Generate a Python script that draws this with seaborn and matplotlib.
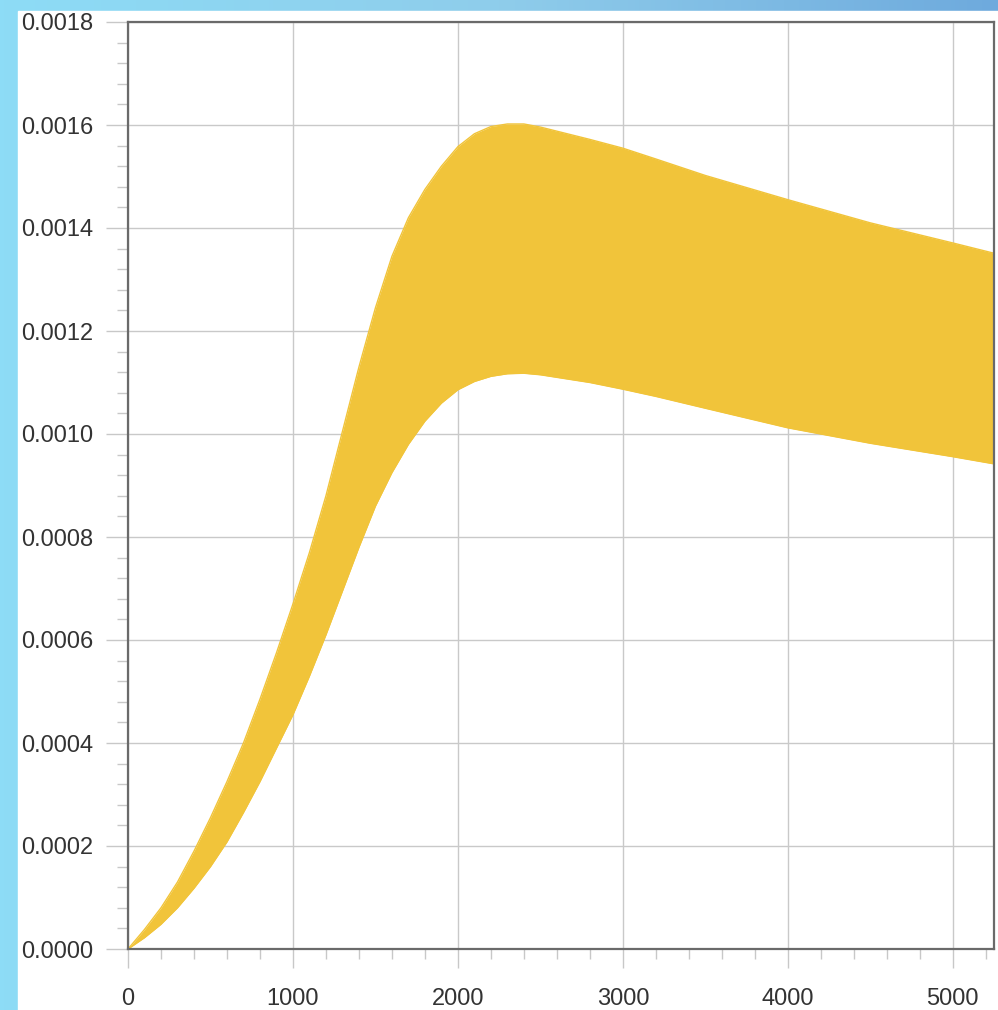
import numpy as np
import pandas as pd
import matplotlib
matplotlib.use("Agg")
import matplotlib.pyplot as plt
from matplotlib.ticker import MultipleLocator, FormatStrFormatter
import seaborn as sns

# valores (x, limite superior e inferior de la banda, en 1e-4)
x_vals = [0, 100, 200, 300, 400, 500, 600, 700, 800, 900, 1000, 1100, 1200,
          1300, 1400, 1500, 1600, 1700, 1800, 1900, 2000, 2100, 2200, 2300,
          2400, 2500, 2600, 2800, 3000, 3200, 3500, 4000, 4500, 5000, 5250]
upper = [0.0, 0.38, 0.80, 1.3, 1.9, 2.55, 3.25, 4.0, 4.85, 5.75, 6.7, 7.7,
         8.8, 10.05, 11.3, 12.45, 13.45, 14.2, 14.75, 15.2, 15.58, 15.83,
         15.97, 16.02, 16.02, 15.96, 15.88, 15.72, 15.55, 15.34, 15.02, 14.55,
         14.1, 13.71, 13.51]
lower = [0.0, 0.22, 0.48, 0.8, 1.18, 1.6, 2.08, 2.65, 3.25, 3.9, 4.55, 5.3,
         6.1, 6.95, 7.8, 8.6, 9.25, 9.8, 10.25, 10.6, 10.86, 11.02, 11.12,
         11.17, 11.18, 11.15, 11.1, 11.0, 10.87, 10.73, 10.5, 10.12, 9.82,
         9.56, 9.42]

df = pd.DataFrame({"x": x_vals,
                   "sup": np.array(upper) * 1e-4,
                   "inf": np.array(lower) * 1e-4})

sns.set_theme(style="whitegrid")
plt.rcParams['font.family'] = ['Liberation Sans', 'DejaVu Sans']

fig = plt.figure(figsize=(9.98, 10.10), dpi=100)

# fondo azul tipo diapositiva
bg = fig.add_axes([0, 0, 1, 1], zorder=-10)
grad = np.linspace(0, 1, 256).reshape(1, -1)
cmap = matplotlib.colors.LinearSegmentedColormap.from_list(
    "fondo", ["#8ddcf6", "#8fcdeb", "#6eaadd"])
bg.imshow(grad, aspect="auto", cmap=cmap, extent=[0, 1, 0, 1])
bg.add_patch(plt.Rectangle((18 / 998, 0), 1, 1 - 11 / 1010, color="white"))
bg.set_xlim(0, 1)
bg.set_ylim(0, 1)
bg.axis("off")

ax = fig.add_axes([128 / 998, 61 / 1010, (994 - 128) / 998, (988 - 61) / 1010])
ax.set_facecolor("white")

amarillo = "#f1c43a"
ax.fill_between(df["x"], df["inf"], df["sup"], color=amarillo, lw=0, zorder=2)
sns.lineplot(data=df, x="x", y="sup", color=amarillo, lw=1, ax=ax, zorder=2)
sns.lineplot(data=df, x="x", y="inf", color=amarillo, lw=1, ax=ax, zorder=2)

ax.set_xlim(0, 5250)
ax.set_ylim(0, 0.0018)
ax.xaxis.set_major_locator(MultipleLocator(1000))
ax.xaxis.set_minor_locator(MultipleLocator(200))
ax.yaxis.set_major_locator(MultipleLocator(0.0002))
ax.yaxis.set_minor_locator(MultipleLocator(0.00004))
ax.yaxis.set_major_formatter(FormatStrFormatter("%.4f"))

ax.grid(True, which="major", color="#c9c9c9", lw=1)
ax.grid(False, which="minor")
ax.set_axisbelow(True)
for s in ax.spines.values():
    s.set_color("#6a6a6a")
    s.set_linewidth(1.6)
    s.set_zorder(5)

ax.tick_params(axis="y", which="major", length=16, width=1, color="#c8c8c8",
               pad=9, labelsize=17, labelcolor="#333333", left=True)
ax.tick_params(axis="y", which="minor", length=8, width=1, color="#c8c8c8", left=True)
ax.tick_params(axis="x", which="major", length=14, width=1, color="#c8c8c8",
               pad=14, labelsize=17, labelcolor="#333333", bottom=True)
ax.tick_params(axis="x", which="minor", length=7, width=1, color="#c8c8c8", bottom=True)
ax.set_xlabel("")
ax.set_ylabel("")

fig.savefig("out.png", dpi=100)
